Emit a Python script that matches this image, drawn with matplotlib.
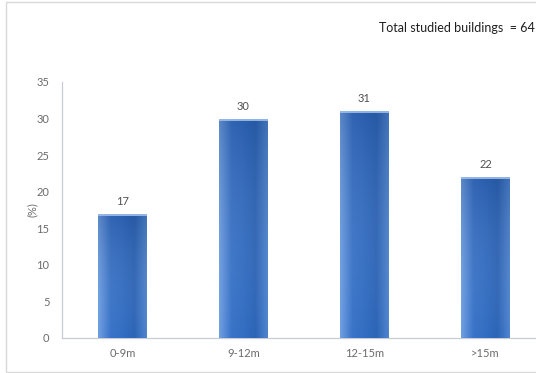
import numpy as np
import matplotlib
matplotlib.use("Agg")
import matplotlib.pyplot as plt
from matplotlib.colors import LinearSegmentedColormap
from matplotlib.patches import Rectangle

categories = ["0-9m", "9-12m", "12-15m", ">15m"]
values = [17, 30, 31, 22]
y_ticks = [0, 5, 10, 15, 20, 25, 30, 35]
note = "Total studied buildings  = 64"

plt.rcParams["font.family"] = ["Lato", "DejaVu Sans"]

fig = plt.figure(figsize=(5.36, 3.73), dpi=100)
fig.patch.set_facecolor("white")

# outer chart-area frame
fig.add_artist(Rectangle((6 / 536, 1 / 373), 1.2, 370 / 373,
                         transform=fig.transFigure, fill=False,
                         edgecolor="#d9d9d9", linewidth=1.0))

ax = fig.add_axes([62 / 536, 35 / 373, 484 / 536, 256 / 373])
x = np.arange(len(categories))
bars = ax.bar(x, values, width=0.4, color="#3a70c2", zorder=2)

ax.set_xlim(-0.5, len(categories) - 0.5)
ax.set_ylim(0, 35)
ax.set_yticks(y_ticks)
ax.set_xticks(x)
ax.set_xticklabels(categories)
ax.tick_params(axis="both", length=0, labelsize=8, colors="#6b6b6b")
ax.tick_params(axis="y", pad=9)
ax.tick_params(axis="x", pad=7)
ax.set_ylabel("(%)", fontsize=8, color="#6b6b6b")
ax.yaxis.set_label_coords(-24 / 484, 0.5)

for side in ("top", "right"):
    ax.spines[side].set_visible(False)
for side in ("left", "bottom"):
    ax.spines[side].set_color("#c8ccd4")
    ax.spines[side].set_linewidth(0.9)

# shaded bar fill: lighter at the sides, darker toward the base
cmap_h = LinearSegmentedColormap.from_list(
    "barh", ["#6f9fe2", "#3a74c8", "#336ec3", "#2d65b6", "#4f84cf"])
cmap_v = LinearSegmentedColormap.from_list(
    "barv", [(1, 1, 1, 0.0), (0.05, 0.15, 0.35, 0.2)])
grad_h = np.linspace(0, 1, 64).reshape(1, -1)
grad_v = np.linspace(0, 1, 64).reshape(-1, 1)
for b in bars:
    x0, w, h = b.get_x(), b.get_width(), b.get_height()
    ext = (x0, x0 + w, 0, h)
    im = ax.imshow(grad_h, cmap=cmap_h, extent=ext, aspect="auto",
                   zorder=3, interpolation="bicubic")
    im.set_clip_path(b)
    im2 = ax.imshow(grad_v, cmap=cmap_v, extent=ext, aspect="auto",
                    zorder=4, interpolation="bicubic", origin="lower")
    im2.set_clip_path(b)
    b.set_facecolor("none")
    # bevel highlight along the top edge
    ax.plot([x0, x0 + w], [h - 0.15, h - 0.15], color="#9cbdea",
            linewidth=1.3, zorder=5, solid_capstyle="butt")
    ax.annotate(f"{h:g}", (x0 + w / 2, h), xytext=(0, 5),
                textcoords="offset points", ha="center", va="bottom",
                fontsize=8, color="#505050")

ax.set_xlim(-0.5, len(categories) - 0.5)
ax.set_ylim(0, 35)

fig.text(535 / 536, 345 / 373, note, ha="right", va="center",
         fontsize=9, color="#1f1f1f")

fig.savefig("out.png", dpi=100)
